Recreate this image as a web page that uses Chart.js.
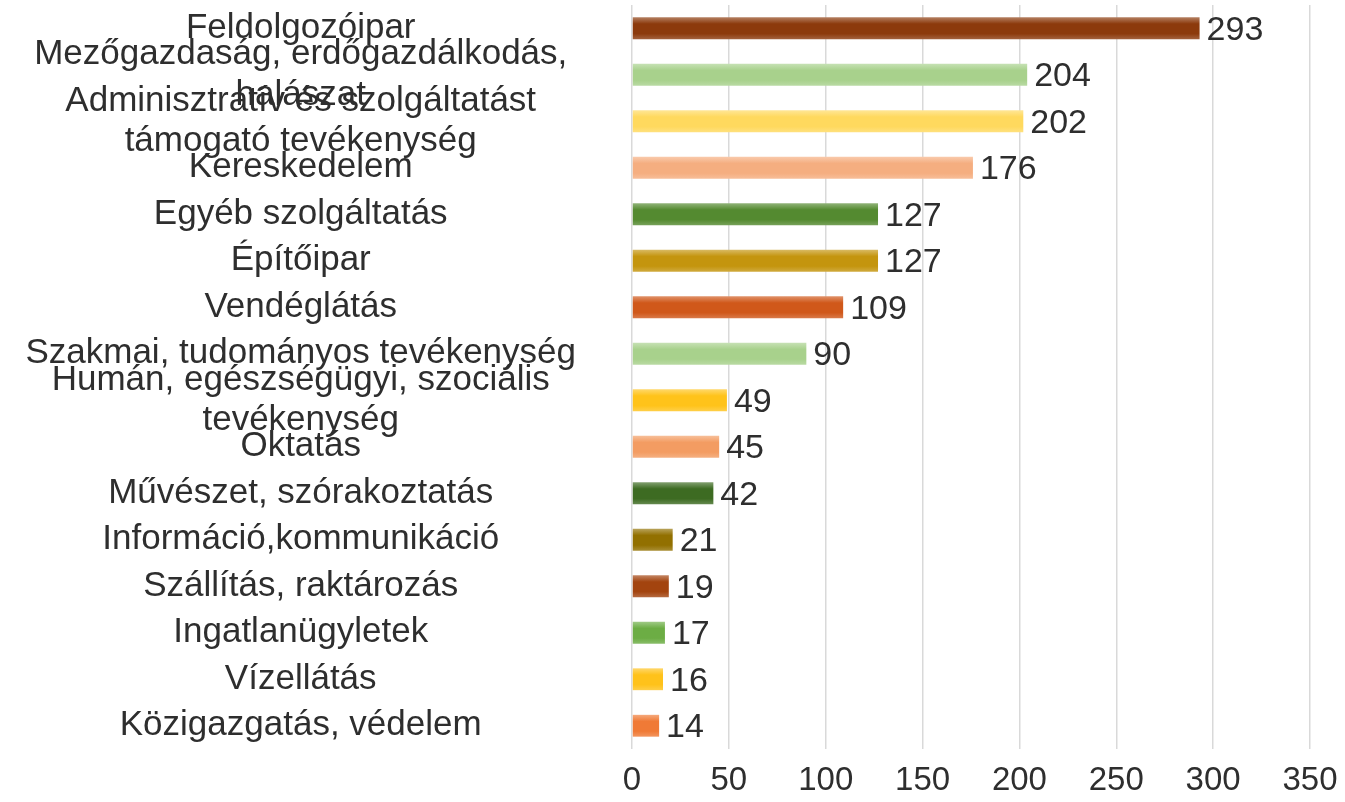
<!DOCTYPE html>
<html>
<head>
<meta charset="utf-8">
<script src="https://cdn.jsdelivr.net/npm/chart.js@4"></script>
<style>
  html, body { margin: 0; padding: 0; background: #fff; }
  #wrap { position: relative; width: 1345px; height: 802px; }
</style>
</head>
<body>
<div id="wrap"><canvas id="chart"></canvas></div>
<script>
// categories, top to bottom (multi-line labels are arrays)
const categories = [
    'Feldolgozóipar',
    ['Mezőgazdaság, erdőgazdálkodás,', 'halászat'],
    ['Adminisztratív és szolgáltatást', 'támogató tevékenység'],
    'Kereskedelem',
    'Egyéb szolgáltatás',
    'Építőipar',
    'Vendéglátás',
    'Szakmai, tudományos tevékenység',
    ['Humán, egészségügyi, szociális', 'tevékenység'],
    'Oktatás',
    'Művészet, szórakoztatás',
    'Információ,kommunikáció',
    'Szállítás, raktározás',
    'Ingatlanügyletek',
    'Vízellátás',
    'Közigazgatás, védelem'
];
const values = [293, 204, 202, 176, 127, 127, 109, 90, 49, 45, 42, 21, 19, 17, 16, 14];
const barColors = [
    '#8c3a0c', '#a8d18c', '#ffd95e', '#f5ae80', '#548a30', '#c4950e',
    '#d0581a', '#a8d18c', '#ffc31a', '#f39c62', '#3d6b22', '#927000',
    '#a3440f', '#6cad44', '#ffc21a', '#f07a36'
];
const xTicks = [0, 50, 100, 150, 200, 250, 300, 350];

const barPct = 0.47;
const fontFamily = '"Liberation Sans", Arial, sans-serif';

function mix(hex, amt) {
    const n = parseInt(hex.slice(1), 16);
    const r = (n >> 16) & 255, g = (n >> 8) & 255, b = n & 255;
    const f = c => Math.round(c + (255 - c) * amt);
    return `rgb(${f(r)},${f(g)},${f(b)})`;
}

function barFill(ctx) {
    const chart = ctx.chart;
    const base = barColors[ctx.dataIndex];
    const y = chart.scales.y;
    if (!y || !chart.chartArea) return base;
    const c = y.getPixelForValue(ctx.dataIndex);
    const step = Math.abs(y.getPixelForValue(1) - y.getPixelForValue(0));
    const half = step * barPct / 2;
    const g = chart.ctx.createLinearGradient(0, c - half, 0, c + half);
    g.addColorStop(0, mix(base, 0.35));
    g.addColorStop(0.3, base);
    g.addColorStop(0.75, base);
    g.addColorStop(1, mix(base, 0.2));
    return g;
}

// value labels at the end of each bar
const valueLabels = {
    id: 'valueLabels',
    afterDatasetsDraw(chart) {
        const ctx = chart.ctx;
        const meta = chart.getDatasetMeta(0);
        ctx.save();
        ctx.font = '34px ' + fontFamily;
        ctx.fillStyle = '#2e2e2e';
        ctx.textAlign = 'left';
        ctx.textBaseline = 'middle';
        meta.data.forEach((bar, i) => {
            ctx.fillText(String(values[i]), bar.x + 7, bar.y + 2);
        });
        ctx.restore();
    }
};

new Chart(document.getElementById('chart').getContext('2d'), {
    type: 'bar',
    data: {
        labels: categories,
        datasets: [{
            data: values,
            backgroundColor: barFill,
            borderWidth: 0,
            barPercentage: barPct,
            categoryPercentage: 1.0
        }]
    },
    options: {
        indexAxis: 'y',
        responsive: true,
        maintainAspectRatio: false,
        animation: false,
        layout: { padding: { top: 5, right: 35, bottom: 0, left: 0 } },
        plugins: {
            legend: { display: false },
            tooltip: { enabled: false }
        },
        scales: {
            x: {
                min: 0,
                max: 350,
                afterBuildTicks: axis => { axis.ticks = xTicks.map(v => ({ value: v })); },
                afterFit: axis => {
                    axis.height = 53;
                    axis.paddingLeft = 0;
                    axis.paddingRight = 0;
                },
                grid: { color: '#d9d9d9', lineWidth: 1.5, drawTicks: false },
                border: { display: false },
                ticks: {
                    color: '#2e2e2e',
                    padding: 12,
                    font: { family: fontFamily, size: 33, lineHeight: 1.2 }
                }
            },
            y: {
                afterFit: axis => {
                    axis.width = 632;
                    axis.paddingTop = 0;
                    axis.paddingBottom = 0;
                },
                grid: { display: false, drawTicks: false },
                border: { display: false },
                ticks: {
                    crossAlign: 'center',
                    padding: 56,
                    color: '#2e2e2e',
                    autoSkip: false,
                    font: { family: fontFamily, size: 35, lineHeight: 1.15 }
                }
            }
        }
    },
    plugins: [valueLabels]
});
</script>
</body>
</html>
